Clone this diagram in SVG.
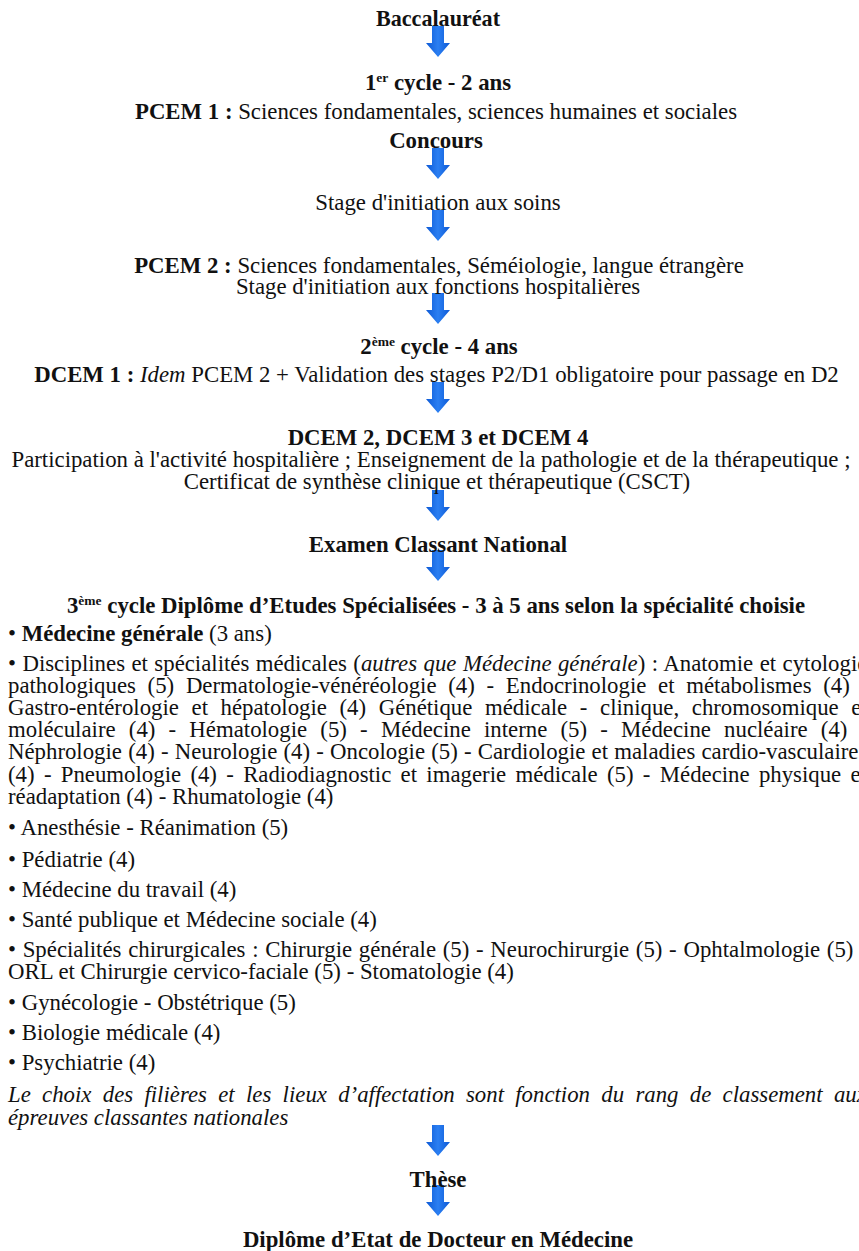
<svg xmlns="http://www.w3.org/2000/svg" width="859" height="1251" viewBox="0 0 859 1251">
<defs>
<linearGradient id="ag" x1="0" y1="0" x2="1" y2="0">
<stop offset="0" stop-color="#0d5ad6"/>
<stop offset="0.5" stop-color="#2b7ff2"/>
<stop offset="1" stop-color="#0d5ad6"/>
</linearGradient>
<path id="arr" d="M-6,0 H6 V17 H12 L0,31 L-12,17 H-6 Z" fill="url(#ag)"/>
</defs>
<style>
text{font-family:"Liberation Serif","Times New Roman",serif;font-size:22.8px;fill:#111}
.b{font-weight:bold}
.c{text-anchor:middle}
.i{font-style:italic}
.sup{font-size:13.5px}
</style>
<rect width="859" height="1251" fill="#fff"/>
<g id="connectors">
<use href="#arr" x="438" y="26"/>
<use href="#arr" x="438" y="148"/>
<use href="#arr" x="438" y="210"/>
<use href="#arr" x="438" y="293"/>
<use href="#arr" x="438" y="382"/>
<use href="#arr" x="438" y="490"/>
<use href="#arr" x="438" y="550"/>
<use href="#arr" x="438" y="1125"/>
<use href="#arr" x="438" y="1185"/>
</g>
<g id="bac"><text class="b c" x="438" y="26" textLength="124" lengthAdjust="spacingAndGlyphs">Baccalauréat</text></g>
<g id="cycle1"><text class="b c" x="438" y="90">1<tspan class="sup" dy="-8">er</tspan><tspan dy="8"> cycle - 2 ans</tspan></text></g>
<g id="pcem1"><text class="c" x="436" y="119"><tspan class="b">PCEM 1 :</tspan> Sciences fondamentales, sciences humaines et sociales</text></g>
<g id="concours"><text class="b c" x="436" y="148">Concours</text></g>
<g id="stage1"><text class="c" x="438" y="210">Stage d'initiation aux soins</text></g>
<g id="pcem2"><text class="c" x="439" y="273"><tspan class="b">PCEM 2 :</tspan> Sciences fondamentales, Séméiologie, langue étrangère</text>
<text class="c" x="438" y="294">Stage d'initiation aux fonctions hospitalières</text></g>
<g id="cycle2"><text class="b c" x="439" y="354">2<tspan class="sup" dy="-8">ème</tspan><tspan dy="8"> cycle - 4 ans</tspan></text></g>
<g id="dcem1"><text class="c" x="436.5" y="382"><tspan class="b">DCEM 1 :</tspan> <tspan class="i">Idem</tspan> PCEM 2 + Validation des stages P2/D1 obligatoire pour passage en D2</text></g>
<g id="dcem234"><text class="b c" x="438" y="445">DCEM 2, DCEM 3 et DCEM 4</text>
<text class="c" x="431" y="467">Participation à l'activité hospitalière ; Enseignement de la pathologie et de la thérapeutique ;</text>
<text class="c" x="437" y="489">Certificat de synthèse clinique et thérapeutique (CSCT)</text></g>
<g id="ecn"><text class="b c" x="438" y="552">Examen Classant National</text></g>
<g id="cycle3"><text class="b c" x="436" y="613">3<tspan class="sup" dy="-8">ème</tspan><tspan dy="8"> cycle Diplôme d’Etudes Spécialisées - 3 à 5 ans selon la spécialité choisie</tspan></text>
<text x="8" y="641">• <tspan class="b">Médecine générale</tspan> (3 ans)</text>
<text x="8" y="671" word-spacing="0.75">• Disciplines et spécialités médicales (<tspan class="i">autres que Médecine générale</tspan>) : Anatomie et cytologie</text>
<text x="8" y="693" word-spacing="6">pathologiques (5) Dermatologie-vénéréologie (4) - Endocrinologie et métabolismes (4) -</text>
<text x="8" y="715" word-spacing="6.9">Gastro-entérologie et hépatologie (4) Génétique médicale - clinique, chromosomique et</text>
<text x="8" y="737" word-spacing="7.5">moléculaire (4) - Hématologie (5) - Médecine interne (5) - Médecine nucléaire (4) -</text>
<text x="8" y="759" word-spacing="0.5">Néphrologie (4) - Neurologie (4) - Oncologie (5) - Cardiologie et maladies cardio-vasculaires</text>
<text x="8" y="782" word-spacing="3.6">(4) - Pneumologie (4) - Radiodiagnostic et imagerie médicale (5) - Médecine physique et</text>
<text x="8" y="804">réadaptation (4) - Rhumatologie (4)</text>
<text x="8" y="835">• Anesthésie - Réanimation (5)</text>
<text x="8" y="867">• Pédiatrie (4)</text>
<text x="8" y="897">• Médecine du travail (4)</text>
<text x="8" y="927">• Santé publique et Médecine sociale (4)</text>
<text x="8" y="957" word-spacing="1">• Spécialités chirurgicales : Chirurgie générale (5) - Neurochirurgie (5) - Ophtalmologie (5) -</text>
<text x="8" y="979">ORL et Chirurgie cervico-faciale (5) - Stomatologie (4)</text>
<text x="8" y="1010">• Gynécologie - Obstétrique (5)</text>
<text x="8" y="1040">• Biologie médicale (4)</text>
<text x="8" y="1070">• Psychiatrie (4)</text>
<text class="i" x="8" y="1102" word-spacing="5.6">Le choix des filières et les lieux d’affectation sont fonction du rang de classement aux</text>
<text class="i" x="8" y="1125">épreuves classantes nationales</text></g>
<g id="these"><text class="b c" x="438" y="1187">Thèse</text></g>
<g id="diplome"><text class="b c" x="438" y="1247">Diplôme d’Etat de Docteur en Médecine</text></g>
</svg>
